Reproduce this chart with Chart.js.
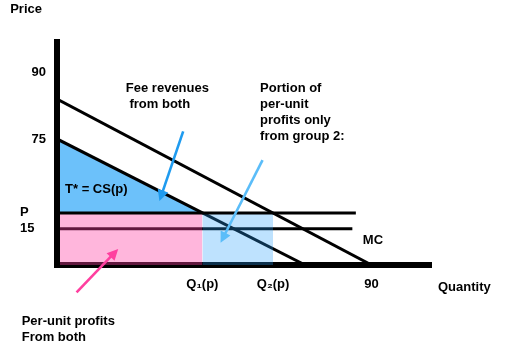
<!DOCTYPE html>
<html>
<head>
<meta charset="utf-8">
<title>Two-part tariff with two consumer groups</title>
<script src="https://cdn.jsdelivr.net/npm/chart.js@4/dist/chart.umd.min.js"></script>
<style>
  html, body { margin: 0; padding: 0; background: #fff; }
  canvas { display: block; }
</style>
</head>
<body>
<canvas id="tariff" width="512" height="347"></canvas>
<script>
// Inverse demand of each group: [price intercept, quantity intercept]
const demandGroup1 = [52, 71];
const demandGroup2 = [68.5, 90];
// Per-unit price p and marginal cost
const unitPrice = [21.5];
const marginalCost = [15];
// Quantities bought at price p: Q1(p), Q2(p)
const quantitiesAtP = [41.6, 61.8];
// Right ends of the price and MC lines
const levelLineEnds = [85.5, 84.5];

// Axis ticks
const yTickValues = [79.5, demandGroup1[0]];
const yTickLabels = ['90', '75'];
const yLevelTickValues = [unitPrice[0], marginalCost[0]];
const yLevelTickLabels = ['P', '15'];
const xTickValues = [quantitiesAtP[0], quantitiesAtP[1], demandGroup2[1]];
const xTickLabels = ['Q\u2081(p)', 'Q\u2082(p)', '90'];

const FONT = '"Liberation Sans", Arial, Helvetica, sans-serif';
Chart.defaults.font.family = FONT;
Chart.defaults.font.size = 13;
Chart.defaults.font.weight = 'bold';
Chart.defaults.color = '#000';

const P = unitPrice[0];
const MC = marginalCost[0];
const [Q1, Q2] = quantitiesAtP;

// Callout texts, anchored in data units (first baseline), left aligned
const notes = [
  { at: [-13.4, 103.8], lines: ['Price'] },
  { at: [109.0, -10.6], lines: ['Quantity'] },
  { at: [19.7, 71.5], lines: ['Fee revenues', ' from both'] },
  { at: [58.1, 71.5], lines: ['Portion of', 'per-unit', 'profits only', 'from group 2:'] },
  { at: [2.3, 29.6], lines: ['T* = CS(p)'] },
  { at: [87.5, 8.7], lines: ['MC'] },
  { at: [-10.1, -24.8], lines: ['Per-unit profits', 'From both'] }
];
// Pointer arrows: [from], [to], colour
const pointers = [
  { from: [36.1, 55.1], to: [29.3, 26.4], color: '#1f9bef' },
  { from: [58.8, 43.3], to: [46.8, 9.2], color: '#5bbdf9' },
  { from: [5.6, -11.3], to: [17.5, 6.6], color: '#ff3f9f' }
];

function drawArrow(ctx, x0, y0, x1, y1, color) {
  const ang = Math.atan2(y1 - y0, x1 - x0);
  const head = 11, half = 5.5;
  const bx = x1 - head * Math.cos(ang), by = y1 - head * Math.sin(ang);
  ctx.strokeStyle = color;
  ctx.fillStyle = color;
  ctx.lineWidth = 2.6;
  ctx.lineCap = 'butt';
  ctx.beginPath();
  ctx.moveTo(x0, y0);
  ctx.lineTo(bx + Math.cos(ang), by + Math.sin(ang));
  ctx.stroke();
  ctx.beginPath();
  ctx.moveTo(x1, y1);
  ctx.lineTo(bx + half * Math.sin(ang), by - half * Math.cos(ang));
  ctx.lineTo(bx - half * Math.sin(ang), by + half * Math.cos(ang));
  ctx.closePath();
  ctx.fill();
}

const callouts = {
  id: 'callouts',
  afterDraw(chart) {
    const { ctx, scales: { x, y } } = chart;
    ctx.save();
    ctx.font = 'bold 13px ' + FONT;
    ctx.fillStyle = '#000';
    ctx.textAlign = 'left';
    ctx.textBaseline = 'alphabetic';
    notes.forEach(n => {
      const px = x.getPixelForValue(n.at[0]);
      const py = y.getPixelForValue(n.at[1]);
      n.lines.forEach((t, i) => ctx.fillText(t, px, py + i * 16));
    });
    pointers.forEach(a => {
      drawArrow(ctx,
        x.getPixelForValue(a.from[0]), y.getPixelForValue(a.from[1]),
        x.getPixelForValue(a.to[0]), y.getPixelForValue(a.to[1]), a.color);
    });
    ctx.restore();
  }
};

const line = (label, pts, extra) => Object.assign({
  label,
  data: pts.map(([x, y]) => ({ x, y })),
  borderColor: '#000',
  borderWidth: 3,
  borderCapStyle: 'butt',
  pointRadius: 0,
  tension: 0,
  fill: false
}, extra || {});

const area = (label, pts, fill, color, order) => line(label, pts, {
  fill, backgroundColor: color, borderColor: 'transparent', borderWidth: 0, order
});

new Chart(document.getElementById('tariff'), {
  type: 'line',
  data: {
    datasets: [
      area('Consumer surplus group 1', [[0, demandGroup1[0]], [Q1, P]], { value: P }, 'rgb(108,193,250)', 5),
      line('Demand group 1', [[0, demandGroup1[0]], [demandGroup1[1], 0]], { order: 4 }),
      line('Demand group 2', [[0, demandGroup2[0]], [demandGroup2[1], 0]], { order: 4 }),
      line('MC', [[0, MC], [levelLineEnds[1], MC]], { order: 4 }),
      area('Per-unit profits from both', [[0, P], [Q1, P]], 'origin', 'rgba(255,62,164,0.38)', 3),
      area('Per-unit profits from group 2', [[Q1, P], [Q2, P]], 'origin', 'rgba(40,160,253,0.3)', 3),
      line('Price p', [[0, P], [levelLineEnds[0], P]], { order: 2 })
    ]
  },
  options: {
    responsive: false,
    devicePixelRatio: 1,
    animation: false,
    events: [],
    layout: { padding: { left: 0, top: 42, right: 81, bottom: 0 } },
    plugins: { legend: { display: false }, tooltip: { enabled: false }, title: { display: false } },
    scales: {
      x: {
        type: 'linear',
        min: 0,
        max: 107,
        grid: { display: false, drawTicks: false },
        border: { display: true, color: '#000', width: 6 },
        afterBuildTicks: s => { s.ticks = xTickValues.map(value => ({ value })); },
        afterFit: s => { s.height = 82; },
        ticks: {
          autoSkip: false,
          maxRotation: 0,
          padding: 12,
          callback: (v, i) => xTickLabels[i]
        }
      },
      y: {
        type: 'linear',
        position: 'left',
        weight: 0,
        min: 0,
        max: 92,
        grid: { display: false, drawTicks: false },
        border: { display: true, color: '#000', width: 6, z: 1 },
        afterBuildTicks: s => { s.ticks = yTickValues.map(value => ({ value })); },
        afterFit: s => { s.width = 37; },
        ticks: {
          autoSkip: false,
          padding: 11,
          callback: (v, i) => yTickLabels[i]
        }
      },
      yLevels: {
        type: 'linear',
        position: 'left',
        weight: 1,
        min: 0,
        max: 92,
        grid: { display: false, drawTicks: false },
        border: { display: false },
        afterBuildTicks: s => { s.ticks = yLevelTickValues.map(value => ({ value })); },
        afterFit: s => { s.width = 20; },
        ticks: {
          autoSkip: false,
          mirror: true,
          padding: 0,
          callback: (v, i) => yLevelTickLabels[i]
        }
      }
    }
  },
  plugins: [callouts]
});
</script>
</body>
</html>
